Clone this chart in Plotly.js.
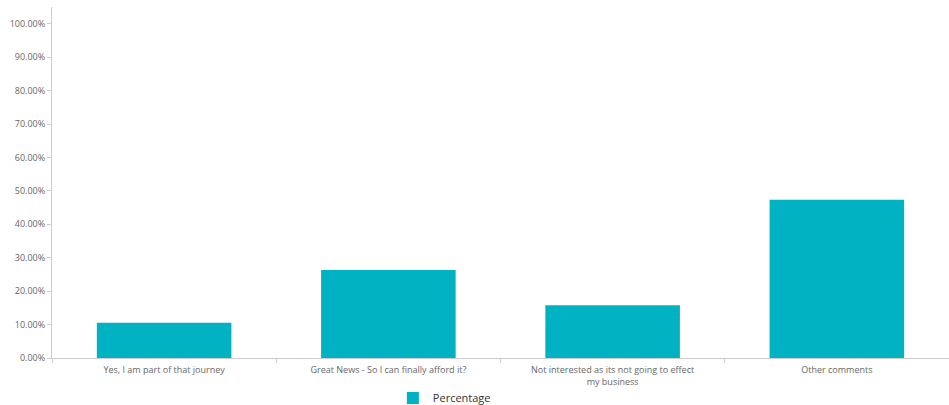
<!DOCTYPE html>
<html>
<head>
<meta charset="utf-8">
<script src="https://cdn.plot.ly/plotly-3.0.1.min.js"></script>
<style>html,body{margin:0;padding:0;background:#fff;}#chart{width:949px;height:405px;}</style>
</head>
<body>
<div id="chart"></div>
<script>
const categories = [
  "Yes, I am part of that journey",
  "Great News - So I can finally afford it?",
  "Not interested as its not going to effect<br>my business",
  "Other comments"
];
const percentages = [10.53, 26.32, 15.79, 47.37];
const seriesName = "Percentage";
const yTicks = [0, 10, 20, 30, 40, 50, 60, 70, 80, 90, 100];

const trace = {
  type: "bar",
  x: categories,
  y: percentages,
  name: seriesName,
  marker: {color: "#00b2c2"},
  showlegend: true
};

const layout = {
  width: 949,
  height: 405,
  margin: {l: 52, r: 0, t: 7, b: 47},
  paper_bgcolor: "#fff",
  plot_bgcolor: "#fff",
  bargap: 0.4,
  font: {family: "Open Sans, sans-serif", color: "#666", size: 9},
  xaxis: {
    showgrid: false,
    showline: true,
    linecolor: "#ccc",
    linewidth: 1,
    ticks: "outside",
    tickson: "boundaries",
    ticklen: 4,
    tickcolor: "#ccc",
    ticklabelstandoff: 3,
    tickfont: {size: 9, color: "#666"},
    zeroline: false
  },
  yaxis: {
    range: [0, 105],
    tickvals: yTicks,
    ticktext: yTicks.map(v => v.toFixed(2) + "%"),
    showgrid: false,
    showline: true,
    linecolor: "#ccc",
    linewidth: 1,
    ticks: "outside",
    ticklen: 4,
    tickcolor: "#ccc",
    tickfont: {size: 9, color: "#666"},
    zeroline: false
  },
  showlegend: true,
  legend: {
    orientation: "h",
    x: 0.380,
    xanchor: "left",
    xref: "paper",
    y: 0.017,
    yanchor: "middle",
    yref: "container",
    itemwidth: 30,
    font: {size: 11, color: "#333"}
  }
};

Plotly.newPlot("chart", [trace], layout, {displayModeBar: false, staticPlot: true});
</script>
</body>
</html>
